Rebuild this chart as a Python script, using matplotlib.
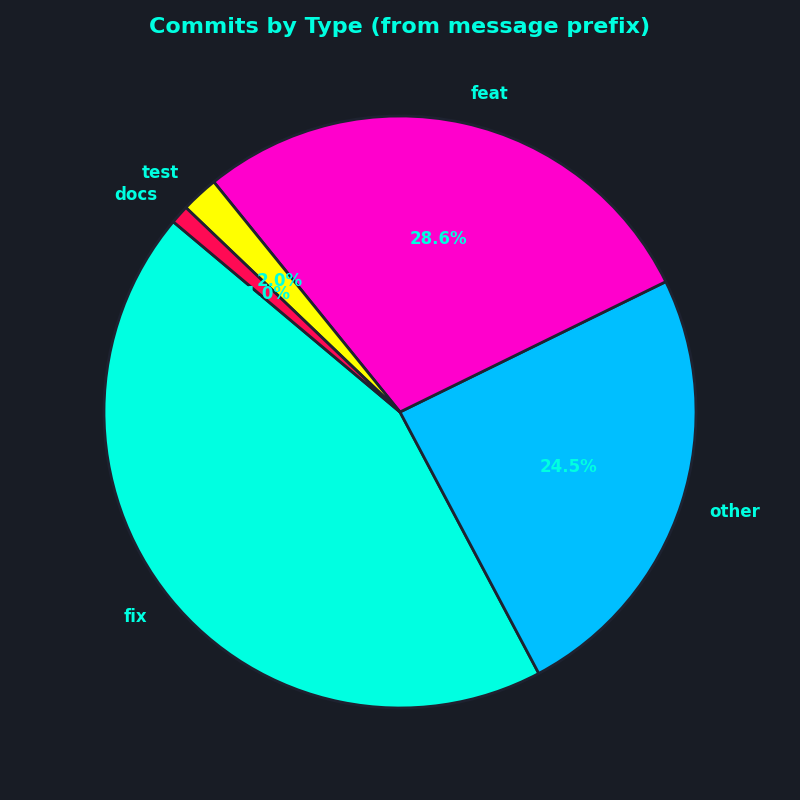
import numpy as np
import matplotlib.pyplot as plt

labels = ['fix', 'other', 'feat', 'test', 'docs']
counts = [43, 24, 28, 2, 1]
colors = ['#00FFE1', '#00BFFF', '#FF00CC', '#FFFF00', '#FF0A54']

bg = '#181C25'
txt = '#00FFE1'

fig = plt.figure(figsize=(8, 8), dpi=100)
fig.patch.set_facecolor(bg)
ax = fig.add_axes([0.0375, 0.0225, 0.925, 0.925])
ax.set_facecolor(bg)

wedges, texts, autotexts = ax.pie(
    counts, labels=labels, colors=colors, autopct='%1.1f%%',
    startangle=140, wedgeprops={'edgecolor': '#1E2230', 'linewidth': 2},
    textprops={'color': txt, 'fontsize': 12, 'fontweight': 'bold'})
ax.set_xlim(-1.25, 1.25)
ax.set_ylim(-1.25, 1.25)
ax.set_aspect('equal')

fig.text(0.5, 1 - 27 / 800, 'Commits by Type (from message prefix)', color=txt,
         fontsize=16, fontweight='bold', ha='center', va='center')
plt.savefig('out.png', facecolor=bg)
